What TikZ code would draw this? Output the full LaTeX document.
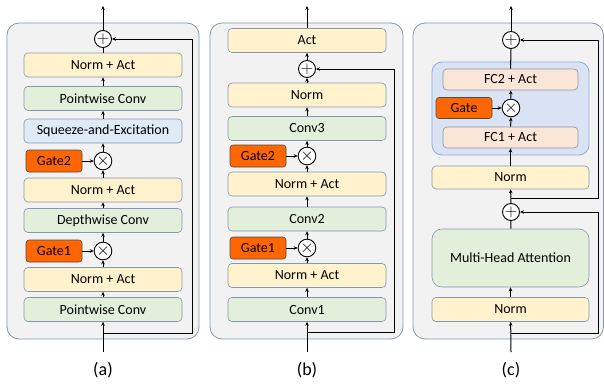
\documentclass[tikz,border=0pt]{standalone}
\usepackage{fontspec}
\setmainfont{Carlito}
\usetikzlibrary{arrows.meta,positioning}

\definecolor{panelfill}{HTML}{F2F2F2}
\definecolor{paneldraw}{HTML}{8497B0}
\definecolor{yellowfill}{HTML}{FFF2CC}
\definecolor{greenfill}{HTML}{E2EFDA}
\definecolor{bluefill}{HTML}{DEEBF7}
\definecolor{peachfill}{HTML}{FBE5D6}
\definecolor{gatefill}{HTML}{FF6600}
\definecolor{innerfill}{HTML}{DAE3F3}
\definecolor{innerdraw}{HTML}{8FAADC}

\begin{document}
\begin{tikzpicture}[x=1pt,y=-1pt,
  font=\fontsize{14}{16}\selectfont,
  panel/.style={draw=paneldraw,fill=panelfill,rounded corners=12pt,line width=0.8pt},
  block/.style={draw=paneldraw,rounded corners=4pt,line width=0.6pt,minimum width=158pt,minimum height=24pt,inner sep=0pt},
  normbox/.style={block,fill=yellowfill},
  convbox/.style={block,fill=greenfill},
  sebox/.style={block,fill=bluefill},
  fcbox/.style={block,fill=peachfill,minimum width=135pt,minimum height=21pt},
  gatebox/.style={draw=black!70,fill=gatefill,rounded corners=3pt,line width=0.6pt,minimum width=56pt,minimum height=22pt,inner sep=0pt},
  opnode/.style={circle,draw=black,fill=white,line width=0.9pt,minimum size=17pt,inner sep=0pt,font=\fontsize{18}{18}\selectfont},
  arr/.style={-{Stealth[length=4pt,width=3.5pt]},line width=1pt},
  line/.style={line width=1pt},
  caption/.style={font=\fontsize{18}{20}\selectfont}]
\useasboundingbox (0,0) rectangle (604,383);
% Panels
  \draw[panel] (7,23) rectangle (199,339);
  \draw[panel] (210,23) rectangle (403,339);
  \draw[panel] (413,23) rectangle (603.5,339);
  \draw[draw=innerdraw,fill=innerfill,rounded corners=10pt,line width=0.8pt] (432,62) rectangle (589,155);
% (a) MBConv
  \node[convbox] (a1) at (103,309.5) {Pointwise Conv};
  \node[normbox] (a2) at (103,279.5) {Norm + Act};
  \node[opnode] (am1) at (103,251) {$\times$};
  \node[gatebox] (ag1) at (54,251) {Gate1};
  \node[convbox] (a3) at (103,220.5) {Depthwise Conv};
  \node[normbox] (a4) at (103,190) {Norm + Act};
  \node[opnode] (am2) at (103,161) {$\times$};
  \node[gatebox] (ag2) at (54,161) {Gate2};
  \node[sebox] (a5) at (103,131) {Squeeze-and-Excitation};
  \node[convbox] (a6) at (103,98.5) {Pointwise Conv};
  \node[normbox] (a7) at (103,65) {Norm + Act};
  \node[opnode] (aplus) at (103,39) {$+$};
  \coordinate (ain) at (103,352);
  \coordinate (abr) at (103,333);
  \coordinate (aout) at (103,6);
  \draw[arr] (ain) -- (a1);
  \draw[arr] (a1) -- (a2);
  \draw[arr] (a2) -- (am1);
  \draw[arr] (ag1) -- (am1);
  \draw[arr] (am1) -- (a3);
  \draw[arr] (a3) -- (a4);
  \draw[arr] (a4) -- (am2);
  \draw[arr] (ag2) -- (am2);
  \draw[arr] (am2) -- (a5);
  \draw[arr] (a5) -- (a6);
  \draw[arr] (a6) -- (a7);
  \draw[line] (a7) -- (aplus);
  \draw[arr] (aplus) -- (aout);
  \draw[arr] (abr) -| (192,39) -- (aplus);
  \node[caption] (alabel) at (103,370) {(a)};
% (b) ResNet-style block
  \node[convbox] (b1) at (307,309.5) {Conv1};
  \node[normbox] (b2) at (307,275.5) {Norm + Act};
  \node[opnode] (bm1) at (307,248) {$\times$};
  \node[gatebox] (bg1) at (258,248) {Gate1};
  \node[convbox] (b3) at (307,219) {Conv2};
  \node[normbox] (b4) at (307,184) {Norm + Act};
  \node[opnode] (bm2) at (307,156) {$\times$};
  \node[gatebox] (bg2) at (258,156) {Gate2};
  \node[convbox] (b5) at (307,128.5) {Conv3};
  \node[normbox] (b6) at (307,95) {Norm};
  \node[opnode] (bplus) at (307,69) {$+$};
  \node[normbox] (b7) at (307,40.5) {Act};
  \coordinate (bin) at (307,352);
  \coordinate (bbr) at (307,332);
  \coordinate (bout) at (307,6);
  \draw[arr] (bin) -- (b1);
  \draw[arr] (b1) -- (b2);
  \draw[arr] (b2) -- (bm1);
  \draw[arr] (bg1) -- (bm1);
  \draw[arr] (bm1) -- (b3);
  \draw[arr] (b3) -- (b4);
  \draw[arr] (b4) -- (bm2);
  \draw[arr] (bg2) -- (bm2);
  \draw[arr] (bm2) -- (b5);
  \draw[arr] (b5) -- (b6);
  \draw[arr] (b6) -- (bplus);
  \draw[arr] (bplus) -- (b7);
  \draw[arr] (b7) -- (bout);
  \draw[arr] (bbr) -| (394,69) -- (bplus);
  \node[caption] (blabel) at (307,370) {(b)};
% (c) Transformer block
  \node[normbox,minimum width=157pt] (c1) at (510.5,309.5) {Norm};
  \node[convbox,minimum width=157pt,minimum height=58pt,rounded corners=10pt] (c2) at (510.5,258) {Multi-Head Attention};
  \node[opnode] (cplus1) at (511,212) {$+$};
  \node[normbox,minimum width=157pt,minimum height=23pt] (c3) at (510.5,177.5) {Norm};
  \node[fcbox] (c4) at (510.5,137.5) {FC1 + Act};
  \node[opnode] (cm) at (511,108) {$\times$};
  \node[gatebox,minimum height=21pt] (cg) at (464,108) {Gate};
  \node[fcbox] (c5) at (510.5,79.5) {FC2 + Act};
  \node[opnode] (cplus2) at (511,40) {$+$};
  \coordinate (cin) at (511,352);
  \coordinate (cbr1) at (511,333);
  \coordinate (cbr2) at (511,198);
  \coordinate (cout) at (511,6);
  \draw[arr] (cin) -- (c1);
  \draw[arr] (c1) -- (c2);
  \draw[line] (c2) -- (cplus1);
  \draw[arr] (cplus1) -- (c3);
  \draw[arr] (c3) -- (c4);
  \draw[arr] (c4) -- (cm);
  \draw[arr] (cg) -- (cm);
  \draw[arr] (cm) -- (c5);
  \draw[line] (c5) -- (cplus2);
  \draw[arr] (cplus2) -- (cout);
  \draw[arr] (cbr1) -| (598,212) -- (cplus1);
  \draw[arr] (cbr2) -| (598,40) -- (cplus2);
  \node[caption] (clabel) at (511,370) {(c)};
\end{tikzpicture}
\end{document}
